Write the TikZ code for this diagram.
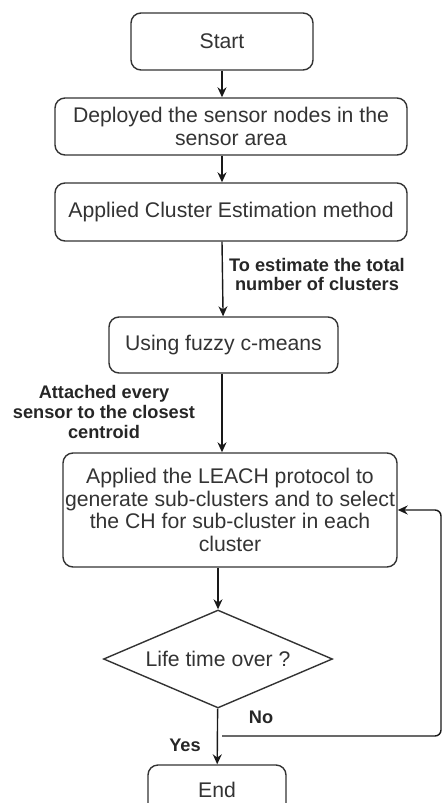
\documentclass[tikz,border=0pt]{standalone}
\usepackage{fontspec}
\setmainfont{Liberation Sans}
\usetikzlibrary{arrows.meta,positioning,shapes.geometric}
\definecolor{ink}{HTML}{333333}

\begin{document}
\begin{tikzpicture}[x=0.5pt,y=-0.5pt,>={Stealth[length=5pt,width=4.5pt]},
  box/.style={draw=ink,line width=0.7pt,rounded corners=5pt,align=center,text=ink,
    font=\fontsize{10.6}{11.3}\selectfont,inner sep=0pt},
  decision/.style={draw=ink,line width=0.7pt,diamond,aspect=2.34,inner sep=0pt,text=ink,
    font=\fontsize{10.6}{11.3}\selectfont},
  lbl/.style={align=center,text=black!85,font=\fontsize{9.1}{9.8}\selectfont\bfseries},
  arr/.style={->,draw=black!90,line width=0.7pt}]
\useasboundingbox (0,0) rectangle (443,803);
% process boxes
\node[box,minimum width=91pt,minimum height=28.5pt] (start) at (222,41.5) {Start};
\node[box,minimum width=176pt,minimum height=28.5pt] (deploy) at (231,126.5)
  {Deployed the sensor nodes in the\\sensor area};
\node[box,minimum width=176pt,minimum height=29pt] (apply) at (231,212)
  {Applied Cluster Estimation method};
\node[box,minimum width=114.5pt,minimum height=28pt] (fuzzy) at (223.5,345)
  {Using fuzzy c-means};
\node[box,minimum width=167pt,minimum height=57pt] (leach) at (230,510)
  {Applied the LEACH protocol to\\generate sub-clusters and to select\\the CH for sub-cluster in each\\cluster};
\node[decision,minimum width=114.5pt,minimum height=49pt] (life) at (218,659)
  {Life time over ?};
\node[box,minimum width=69pt,minimum height=25pt] (end) at (217,790) {End};
% edge labels
\node[lbl] (estlbl) at (317,274.5) {To estimate the total\\number of clusters};
\node[lbl] (attlbl) at (104,412) {Attached every\\sensor to the closest\\centroid};
\node[lbl] (nolbl) at (261,717) {No};
\node[lbl] (yeslbl) at (185,745) {Yes};
% connectors
\draw[arr] (start) -- (deploy.north -| start);
\draw[arr] (deploy.south -| start) -- (apply.north -| start);
\draw[arr] (apply.south -| start) -- (fuzzy);
\draw[arr] (fuzzy.south -| start) -- (leach.north -| start);
\draw[arr] (leach.south -| life) -- (life);
\draw[arr] (life) -- (end);
\coordinate (nojoin) at (222,736);
\coordinate (loopR) at (441,623);
\draw[arr,rounded corners=3pt] (nojoin) -| (loopR) |- (leach.east);
\end{tikzpicture}
\end{document}
